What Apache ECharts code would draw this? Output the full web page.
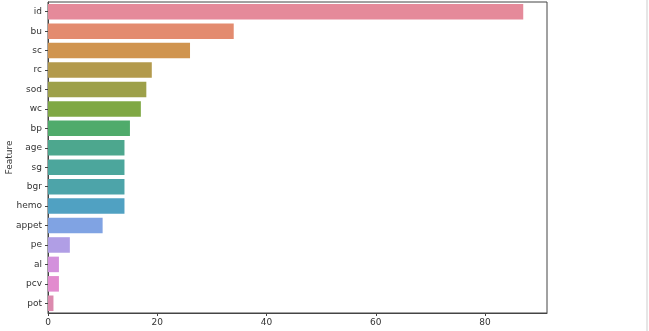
<!DOCTYPE html>
<html><head><meta charset="utf-8">
<script src="https://cdn.jsdelivr.net/npm/echarts@6/dist/echarts.min.js"></script>
<style>html,body{margin:0;padding:0;background:#fff}#c{width:649px;height:331px}</style>
</head><body><div id="c"></div>
<script>
const categories = ['id','bu','sc','rc','sod','wc','bp','age','sg','bgr','hemo','appet','pe','al','pcv','pot'];
const values = [87,34,26,19,18,17,15,14,14,14,14,10,4,2,2,1];
const colors = ['#e58a9a','#e38b6f','#d0944f','#b39a4c','#9da049','#7fa844','#4fab6b','#4da78e','#4ca69c','#4da4a9','#50a1c2','#80a3e3','#b09ee5','#d391dc','#e28bce','#dc8aae'];
const xTicks = [0,20,40,60,80];
const yName = 'Feature';

const chart = echarts.init(document.getElementById('c'), null, {renderer:'canvas'});
chart.setOption({
  animation:false,
  backgroundColor:'#fff',
  grid:{left:48,right:102,top:2,bottom:18,containLabel:false,outerBoundsMode:'none',
    show:true,borderColor:'#444',borderWidth:1,backgroundColor:'transparent'},
  graphic:[{type:'rect',shape:{x:646,y:0,width:2,height:331},style:{fill:'#e6e6e6'},silent:true}],
  xAxis:{type:'value',min:0,max:91.35,interval:20,
    axisLine:{show:true,lineStyle:{color:'#444'}},
    axisTick:{show:true,length:3,customValues:xTicks,lineStyle:{color:'#444'}},
    splitLine:{show:false},
    axisLabel:{color:'#333',fontSize:9,fontFamily:'DejaVu Sans',margin:5,customValues:xTicks,
      formatter:v=>String(v)}},
  yAxis:{type:'category',data:categories,inverse:true,
    name:yName,nameLocation:'middle',nameGap:34,nameRotate:90,nameMoveOverlap:false,
    nameTextStyle:{color:'#333',fontSize:9,fontFamily:'DejaVu Sans'},
    axisLine:{show:true,lineStyle:{color:'#444'}},
    axisTick:{show:true,length:3,alignWithLabel:true,lineStyle:{color:'#444'}},
    axisLabel:{color:'#333',fontSize:9,fontFamily:'DejaVu Sans',margin:6}},
  series:[{type:'bar',barCategoryGap:'20%',
    data:values.map((v,i)=>({value:v,itemStyle:{color:colors[i]}}))}]
});
</script></body></html>
